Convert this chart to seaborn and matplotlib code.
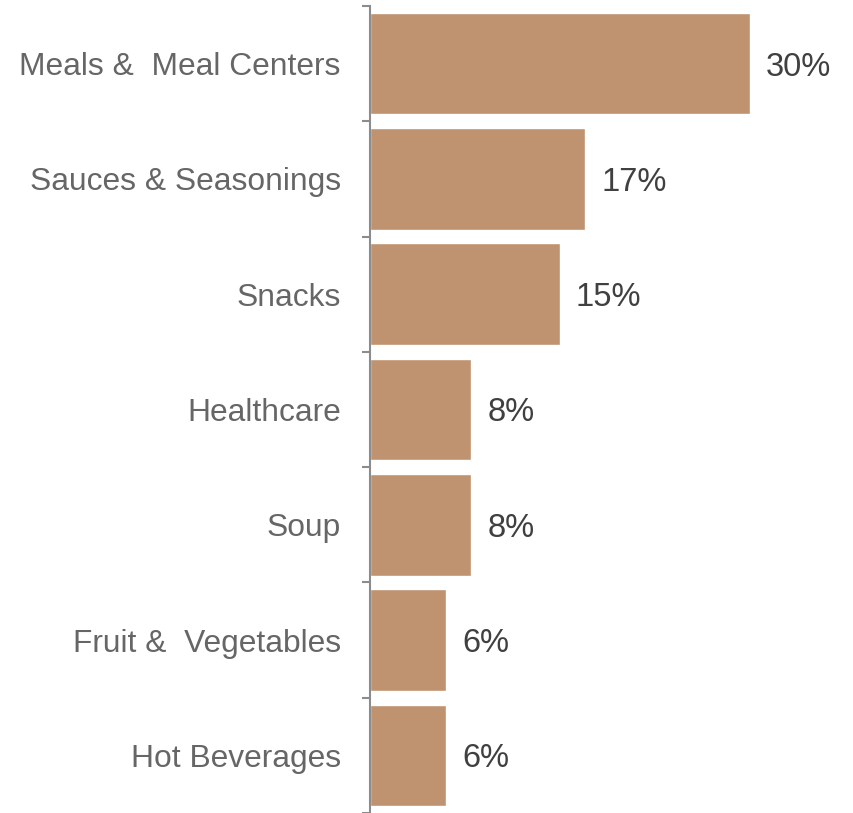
import matplotlib
matplotlib.use("Agg")
import matplotlib.pyplot as plt
import seaborn as sns
import pandas as pd
from matplotlib.ticker import FixedLocator

categories = ["Meals &  Meal Centers", "Sauces & Seasonings", "Snacks", "Healthcare",
              "Soup", "Fruit &  Vegetables", "Hot Beverages"]
shares = [30, 17, 15, 8, 8, 6, 6]
value_labels = ["30%", "17%", "15%", "8%", "8%", "6%", "6%"]

sns.set_style("white")
plt.rcParams["font.family"] = ["Liberation Sans", "DejaVu Sans"]

df = pd.DataFrame({"category": categories, "share": shares})

fig = plt.figure(figsize=(8.54, 8.13), dpi=100)
ax = fig.add_axes([370 / 854, 0.0, 484 / 854, 807 / 813])

sns.barplot(data=df, x="share", y="category", color="#BF9270", saturation=1,
            width=0.88, ax=ax, orient="h")

ax.set_xlim(0, 484 / (380 / 30))
ax.set_ylim(len(categories) - 0.5, -0.5)

for i, (v, lab) in enumerate(zip(shares, value_labels)):
    ax.annotate(lab, xy=(v, i), xytext=(11.5, -2.5), textcoords="offset points",
                va="center", ha="left", fontsize=23.5, color="#404040")

for side in ["top", "right", "bottom"]:
    ax.spines[side].set_visible(False)
ax.spines["left"].set_color("#8C8C8C")
ax.spines["left"].set_linewidth(1.5)

ax.set_xticks([])
ax.set_xlabel("")
ax.set_ylabel("")
ax.yaxis.set_minor_locator(FixedLocator([k - 0.5 for k in range(len(categories) + 1)]))
ax.tick_params(axis="y", which="major", length=0, pad=21, labelsize=22.9, labelcolor="#666666")
ax.tick_params(axis="y", which="minor", length=6, width=1.5, color="#8C8C8C", left=True)

fig.savefig("out.png", dpi=100)
